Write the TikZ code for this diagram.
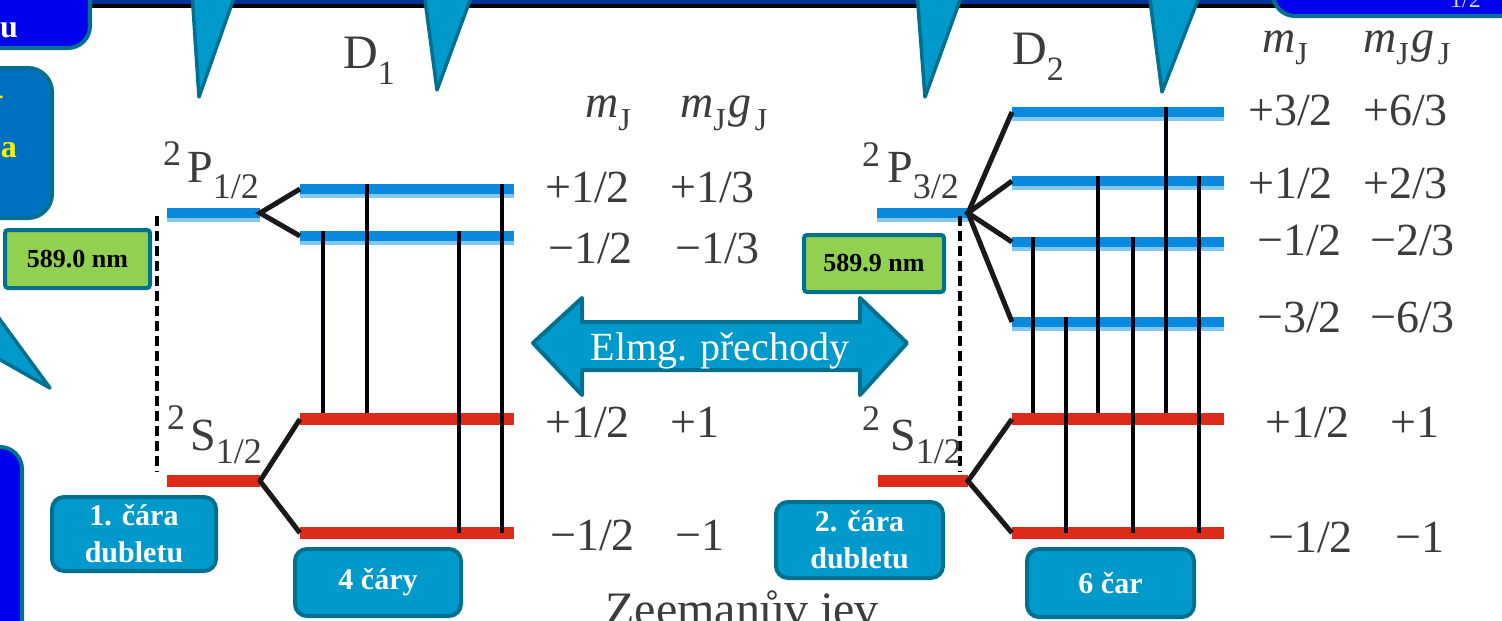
\documentclass[tikz,border=0pt]{standalone}
\usepackage{fontspec}
\setmainfont{Liberation Serif}
\definecolor{teal1}{HTML}{00708F}
\definecolor{calfill}{HTML}{0099CC}
\definecolor{vivblue}{HTML}{0000EE}
\definecolor{medblue}{HTML}{0070C0}
\definecolor{bandblue}{HTML}{00339A}
\definecolor{lvlblue}{HTML}{0A8ADE}
\definecolor{lvllight}{HTML}{82C8EF}
\definecolor{lvlred}{HTML}{DC2B1A}
\definecolor{green1}{HTML}{92D050}
\definecolor{txtgray}{HTML}{3C3C3C}
\newcommand\myfs[1]{\fontsize{#1}{#1}\selectfont}
\begin{document}
\begin{tikzpicture}[x=1pt,y=-1pt,
  callout/.style={fill=calfill,draw=teal1,line width=3.5pt,line join=round},
  bluebox/.style={fill=vivblue,draw=teal1,line width=4pt,rounded corners=22pt},
  medbox/.style={fill=medblue,draw=teal1,line width=4pt,rounded corners=24pt},
  capbox/.style={fill=calfill,draw=teal1,line width=4pt,rounded corners=12pt,text=white,
    font=\bfseries\fontsize{30}{37}\selectfont,align=center,inner sep=0pt},
  nmbox/.style={fill=green1,draw=teal1,line width=4pt,rounded corners=3pt,text=black,
    font=\bfseries\myfs{26},inner sep=0pt},
  val/.style={text=txtgray,font=\myfs{46},inner sep=0pt,anchor=base west},
  term/.style={text=txtgray,font=\myfs{46},inner sep=0pt,anchor=base west},
  lightbar/.style={draw=lvllight,line width=14pt},
  darkbar/.style={draw=lvlblue,line width=10pt},
  redbar/.style={draw=lvlred,line width=12pt},
  splitln/.style={draw=black!90,line width=5pt},
  trans/.style={draw=black!95!blue,line width=4.5pt},
  dashln/.style={draw=black,line width=4pt,dash pattern=on 10pt off 5pt}
]
\useasboundingbox (0,0) rectangle (1502,621);
\clip (0,0) rectangle (1502,621);
\fill[white] (0,0) rectangle (1502,621);

% top band
\fill[bandblue] (0,0) rectangle (1502,3.5);
\fill[black] (0,3.5) rectangle (1502,7.5);

% partial boxes at the edges
\draw[bluebox] (-40,-40) rectangle (90,48);
\node[anchor=base east,text=white,font=\bfseries\myfs{32},inner sep=0pt] (tlu) at (18,37) {u};
\draw[medbox] (-40,68) rectangle (52,218);
\node[anchor=base east,text=yellow,font=\bfseries\myfs{30},inner sep=0pt] (lyd) at (4,104) {-};
\node[anchor=base east,text=yellow,font=\bfseries\myfs{32},inner sep=0pt] (lya) at (17,157) {a};
\draw[bluebox] (-60,447) rectangle (22,720);
\draw[bluebox] (1273,-60) rectangle (1560,16);
\node[anchor=base west,text=white!85!blue,font=\myfs{24},inner sep=0pt] (pg) at (1450,8) {1/2};

% callout pointers
\draw[callout] (-10,306) -- (50,388) -- (-10,354) -- cycle;
\draw[callout] (192,-8) -- (199,97) -- (236,-8) -- cycle;
\draw[callout] (424,-8) -- (437,90) -- (473,-8) -- cycle;
\draw[callout] (917,-8) -- (925,97) -- (963,-8) -- cycle;
\draw[callout] (1149,-8) -- (1162,92) -- (1201,-8) -- cycle;

% D labels
\node[term,font=\myfs{48}] (D1) at (343,68) {D\raisebox{-16pt}{\myfs{34}1}};
\node[term,font=\myfs{48}] (D2) at (1012,64) {D\raisebox{-16pt}{\myfs{34}2}};

% ---------- D1 levels ----------
\coordinate (P1l) at (167,213); \coordinate (P1v) at (260,213);
\coordinate (P1pa) at (300,189); \coordinate (P1pb) at (514,189);
\coordinate (P1ma) at (300,236); \coordinate (P1mb) at (514,236);
\coordinate (S1l) at (167,481); \coordinate (S1v) at (260,481);
\coordinate (S1pa) at (300,419); \coordinate (S1pb) at (514,419);
\coordinate (S1ma) at (300,533); \coordinate (S1mb) at (514,533);

\foreach \a/\b in {P1l/P1v,P1pa/P1pb,P1ma/P1mb}{
  \draw[lightbar] ([yshift=-2pt]\a) -- ([yshift=-2pt]\b);
  \draw[darkbar] (\a) -- (\b);
}
\foreach \a/\b in {S1l/S1v,S1pa/S1pb,S1ma/S1mb}{
  \draw[redbar] (\a) -- (\b);
}
\draw[splitln] (P1pa) -- (P1v) -- (P1ma);
\draw[splitln] (S1pa) -- (S1v) -- (S1ma);

% transitions D1
\coordinate (a1) at (323,231); \coordinate (b1) at (323,413);
\coordinate (a2) at (367,184); \coordinate (b2) at (367,413);
\coordinate (a3) at (459,231); \coordinate (b3) at (459,533);
\coordinate (a4) at (502,184); \coordinate (b4) at (502,533);
\foreach \i in {1,...,4}{\draw[trans] (a\i) -- (b\i);}

% dashed D1
\coordinate (d1a) at (157,216); \coordinate (d1b) at (157,472);
\draw[dashln] (d1a) -- (d1b);

% term labels D1
\node[term] (tP1) at (163,182) {\raisebox{17pt}{\myfs{36}2}\hspace{6pt}P\raisebox{-16pt}{\myfs{36}1/2}};
\node[term] (tS1) at (167,450) {\raisebox{21pt}{\myfs{36}2}\hspace{5pt}S\raisebox{-13pt}{\myfs{36}1/2}};

% values D1
\node[val] (h1a) at (585,117) {\itshape m\raisebox{-13pt}{\upshape\myfs{32}J}};
\node[val] (h1b) at (680,117) {\itshape m\raisebox{-13pt}{\upshape\myfs{32}J}\hspace{3pt}g\raisebox{-13pt}{\upshape\myfs{32}\hspace{3pt}J}};
\node[val] (v1a) at (545,202) {+1/2};   \node[val] (w1a) at (670,202) {+1/3};
\node[val] (v1b) at (548,263) {−1/2};   \node[val] (w1b) at (675,263) {−1/3};
\node[val] (v1c) at (545,437) {+1/2};   \node[val] (w1c) at (670,437) {+1};
\node[val] (v1d) at (550,550) {−1/2};   \node[val] (w1d) at (675,550) {−1};

% ---------- D2 levels ----------
\coordinate (P2l) at (877,213); \coordinate (P2v) at (968,213);
\coordinate (L1a) at (1012,112); \coordinate (L1b) at (1224,112);
\coordinate (L2a) at (1012,181); \coordinate (L2b) at (1224,181);
\coordinate (L3a) at (1012,242); \coordinate (L3b) at (1224,242);
\coordinate (L4a) at (1012,322); \coordinate (L4b) at (1224,322);
\coordinate (S2l) at (878,481); \coordinate (S2v) at (968,481);
\coordinate (S2pa) at (1012,419); \coordinate (S2pb) at (1224,419);
\coordinate (S2ma) at (1012,533); \coordinate (S2mb) at (1224,533);

\foreach \a/\b in {P2l/P2v,L1a/L1b,L2a/L2b,L3a/L3b,L4a/L4b}{
  \draw[lightbar] ([yshift=-2pt]\a) -- ([yshift=-2pt]\b);
  \draw[darkbar] (\a) -- (\b);
}
\foreach \a/\b in {S2l/S2v,S2pa/S2pb,S2ma/S2mb}{
  \draw[redbar] (\a) -- (\b);
}
\draw[splitln] (L1a) -- (P2v) -- (L4a);
\draw[splitln] (L2a) -- (P2v) -- (L3a);
\draw[splitln] (S2pa) -- (S2v) -- (S2ma);

% transitions D2
\coordinate (c1) at (1033,237); \coordinate (e1) at (1033,413);
\coordinate (c2) at (1066,317); \coordinate (e2) at (1066,533);
\coordinate (c3) at (1098,176); \coordinate (e3) at (1098,413);
\coordinate (c4) at (1133,237); \coordinate (e4) at (1133,533);
\coordinate (c5) at (1166,107); \coordinate (e5) at (1166,413);
\coordinate (c6) at (1199,176); \coordinate (e6) at (1199,533);
\foreach \i in {1,...,6}{\draw[trans] (c\i) -- (e\i);}

% dashed D2
\coordinate (d2a) at (960,216); \coordinate (d2b) at (960,472);
\draw[dashln] (d2a) -- (d2b);

% term labels D2
\node[term] (tP2) at (862,182) {\raisebox{16pt}{\myfs{36}2}\hspace{7pt}P\raisebox{-16pt}{\myfs{36}3/2}};
\node[term] (tS2) at (862,450) {\raisebox{20pt}{\myfs{36}2}\hspace{10pt}S\raisebox{-13pt}{\myfs{36}1/2}};

% values D2
\node[val] (h2a) at (1262,52) {\itshape m\raisebox{-13pt}{\upshape\myfs{32}J}};
\node[val] (h2b) at (1363,52) {\itshape m\raisebox{-13pt}{\upshape\myfs{32}J}\hspace{3pt}g\raisebox{-13pt}{\upshape\myfs{32}\hspace{3pt}J}};
\node[val] (v2a) at (1248,125) {+3/2};  \node[val] (w2a) at (1363,125) {+6/3};
\node[val] (v2b) at (1248,198) {+1/2};  \node[val] (w2b) at (1363,198) {+2/3};
\node[val] (v2c) at (1257,255) {−1/2};  \node[val] (w2c) at (1370,255) {−2/3};
\node[val] (v2d) at (1257,332) {−3/2};  \node[val] (w2d) at (1370,332) {−6/3};
\node[val] (v2e) at (1265,437) {+1/2};  \node[val] (w2e) at (1390,437) {+1};
\node[val] (v2f) at (1268,552) {−1/2};  \node[val] (w2f) at (1395,552) {−1};

% green wavelength boxes
\node[nmbox,minimum width=145pt,minimum height=58pt] (nm1) at (77.5,259) {589.0 nm};
\node[nmbox,minimum width=140pt,minimum height=57pt] (nm2) at (874,263.5) {589.9 nm};

% double arrow
\draw[callout,line width=4pt] (533,343) -- (582,298) -- (582,322) -- (860,322) -- (860,298)
  -- (907,343) -- (860,395) -- (860,370) -- (582,370) -- (582,395) -- cycle;
\node[text=white,font=\myfs{40},inner sep=0pt,anchor=base] (elmg) at (720,360) {Elmg. přechody};

% caption boxes
\node[capbox,minimum width=164pt,minimum height=74pt] (cb1) at (134,534) {1. čára\\dubletu};
\node[capbox,minimum width=166pt,minimum height=67pt] (cb2) at (378,582.5) {4 čáry};
\node[capbox,minimum width=167pt,minimum height=76pt] (cb3) at (859.5,540) {2. čára\\dubletu};
\node[capbox,minimum width=167pt,minimum height=68pt] (cb4) at (1110.5,583) {6 čar};

% bottom title (cut off)
\node[text=txtgray,font=\myfs{48},inner sep=0pt,anchor=base] (zee) at (742,625) {Zeemanův jev};
\end{tikzpicture}
\end{document}
